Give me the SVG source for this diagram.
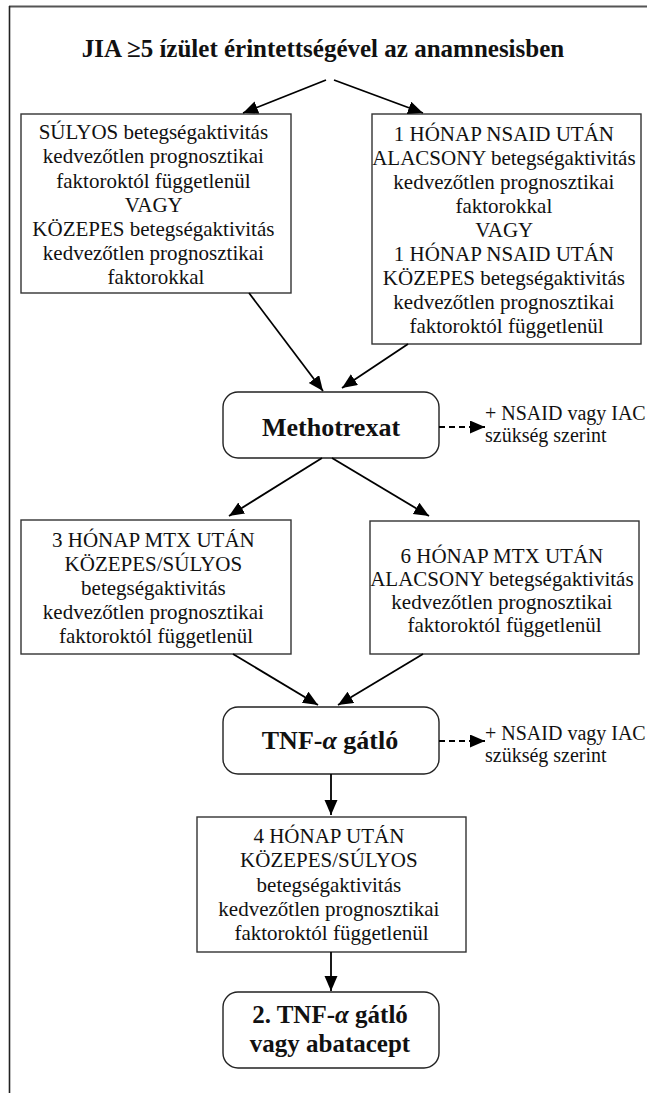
<svg xmlns="http://www.w3.org/2000/svg" width="647" height="1093" viewBox="0 0 647 1093">
<style>
.bx{fill:#fff;stroke:#333;stroke-width:1.4}
.rb{fill:#fff;stroke:#222;stroke-width:1.4}
.t{font-family:"Liberation Serif","Times New Roman",serif;font-size:21px;fill:#111;text-anchor:middle}
.s{font-family:"Liberation Serif","Times New Roman",serif;font-size:20px;fill:#111}
.b{font-family:"Liberation Serif","Times New Roman",serif;font-size:26px;font-weight:bold;fill:#111;text-anchor:middle}
.b2{font-family:"Liberation Serif","Times New Roman",serif;font-size:25px;font-weight:bold;fill:#111;text-anchor:middle}
.h{font-family:"Liberation Serif","Times New Roman",serif;font-size:25px;font-weight:bold;fill:#111;text-anchor:middle}
.a{stroke:#000;stroke-width:1.8;fill:none;marker-end:url(#ah)}
.d{stroke:#000;stroke-width:1.8;fill:none;stroke-dasharray:6 4;marker-end:url(#ah)}
</style>
<defs>
<marker id="ah" markerUnits="userSpaceOnUse" markerWidth="16" markerHeight="14" refX="15" refY="6.5" orient="auto">
<path d="M0,0 L15,6.5 L0,13 Z" fill="#000"/>
</marker>
</defs>
<rect width="647" height="1093" fill="#fff"/>
<g id="frame">
<line x1="9" y1="6.5" x2="647" y2="6.5" stroke="#555" stroke-width="2"/>
<line x1="9.5" y1="6" x2="9.5" y2="1093" stroke="#222" stroke-width="1.6"/>
</g>
<g id="title"><text class="h" x="323" y="57">JIA ≥5 ízület érintettségével az anamnesisben</text></g>
<g id="n1">
<rect class="bx" x="21" y="114" width="270" height="179"/>
<text class="t">
<tspan x="156" y="139">SÚLYOS betegségaktivitás</tspan>
<tspan x="156" y="163">kedvezőtlen prognosztikai</tspan>
<tspan x="156" y="187.5">faktoroktól függetlenül</tspan>
<tspan x="156" y="211.5">VAGY</tspan>
<tspan x="156" y="236">KÖZEPES betegségaktivitás</tspan>
<tspan x="156" y="260">kedvezőtlen prognosztikai</tspan>
<tspan x="156" y="284">faktorokkal</tspan>
</text>
</g>
<g id="n2">
<rect class="bx" x="372" y="114" width="269" height="230"/>
<text class="t">
<tspan x="506.5" y="140.5">1 HÓNAP NSAID UTÁN</tspan>
<tspan x="506.5" y="164.6">ALACSONY betegségaktivitás</tspan>
<tspan x="506.5" y="188.7">kedvezőtlen prognosztikai</tspan>
<tspan x="506.5" y="212.8">faktorokkal</tspan>
<tspan x="506.5" y="236.9">VAGY</tspan>
<tspan x="506.5" y="261">1 HÓNAP NSAID UTÁN</tspan>
<tspan x="506.5" y="285.1">KÖZEPES betegségaktivitás</tspan>
<tspan x="506.5" y="309.2">kedvezőtlen prognosztikai</tspan>
<tspan x="506.5" y="333.3">faktoroktól függetlenül</tspan>
</text>
</g>
<g id="n3">
<rect class="rb" x="223" y="392" width="216" height="66" rx="15"/>
<text class="b" x="331" y="436">Methotrexat</text>
</g>
<g id="n3s">
<text class="s" x="485" y="419.5">+ NSAID vagy IAC</text>
<text class="s" x="485" y="442">szükség szerint</text>
</g>
<g id="n4">
<rect class="bx" x="21" y="520" width="270" height="134"/>
<text class="t">
<tspan x="156" y="547">3 HÓNAP MTX UTÁN</tspan>
<tspan x="156" y="571">KÖZEPES/SÚLYOS</tspan>
<tspan x="156" y="595">betegségaktivitás</tspan>
<tspan x="156" y="619">kedvezőtlen prognosztikai</tspan>
<tspan x="156" y="643">faktoroktól függetlenül</tspan>
</text>
</g>
<g id="n5">
<rect class="bx" x="370" y="521" width="269" height="133"/>
<text class="t">
<tspan x="504.5" y="563">6 HÓNAP MTX UTÁN</tspan>
<tspan x="504.5" y="586">ALACSONY betegségaktivitás</tspan>
<tspan x="504.5" y="609">kedvezőtlen prognosztikai</tspan>
<tspan x="504.5" y="632">faktoroktól függetlenül</tspan>
</text>
</g>
<g id="n6">
<rect class="rb" x="223" y="707" width="216" height="67" rx="15"/>
<text class="b" x="330" y="749">TNF-<tspan font-style="italic">α</tspan> gátló</text>
</g>
<g id="n6s">
<text class="s" x="485" y="739.5">+ NSAID vagy IAC</text>
<text class="s" x="485" y="762">szükség szerint</text>
</g>
<g id="n7">
<rect class="bx" x="197" y="817" width="269" height="135"/>
<text class="t">
<tspan x="331.5" y="843">4 HÓNAP UTÁN</tspan>
<tspan x="331.5" y="867">KÖZEPES/SÚLYOS</tspan>
<tspan x="331.5" y="891.5">betegségaktivitás</tspan>
<tspan x="331.5" y="916">kedvezőtlen prognosztikai</tspan>
<tspan x="331.5" y="940">faktoroktól függetlenül</tspan>
</text>
</g>
<g id="n8">
<rect class="rb" x="223" y="992" width="216" height="76" rx="15"/>
<text class="b2" x="330" y="1023">2. TNF-<tspan font-style="italic">α</tspan> gátló</text>
<text class="b2" x="330" y="1051.5">vagy abatacept</text>
</g>
<g id="connectors">
<line class="a" x1="326" y1="80" x2="243" y2="113"/>
<line class="a" x1="334" y1="80" x2="423" y2="113"/>
<line class="a" x1="249" y1="293" x2="323" y2="391"/>
<line class="a" x1="408" y1="344" x2="342" y2="388"/>
<line class="d" x1="439" y1="427" x2="485" y2="427"/>
<line class="a" x1="322" y1="458" x2="229" y2="516"/>
<line class="a" x1="332" y1="458" x2="429" y2="516"/>
<line class="a" x1="233" y1="654" x2="318" y2="705"/>
<line class="a" x1="423" y1="654" x2="338" y2="705"/>
<line class="d" x1="439" y1="741" x2="485" y2="741"/>
<line class="a" x1="331" y1="774" x2="331" y2="815"/>
<line class="a" x1="331" y1="952" x2="331" y2="991"/>
</g>
</svg>
